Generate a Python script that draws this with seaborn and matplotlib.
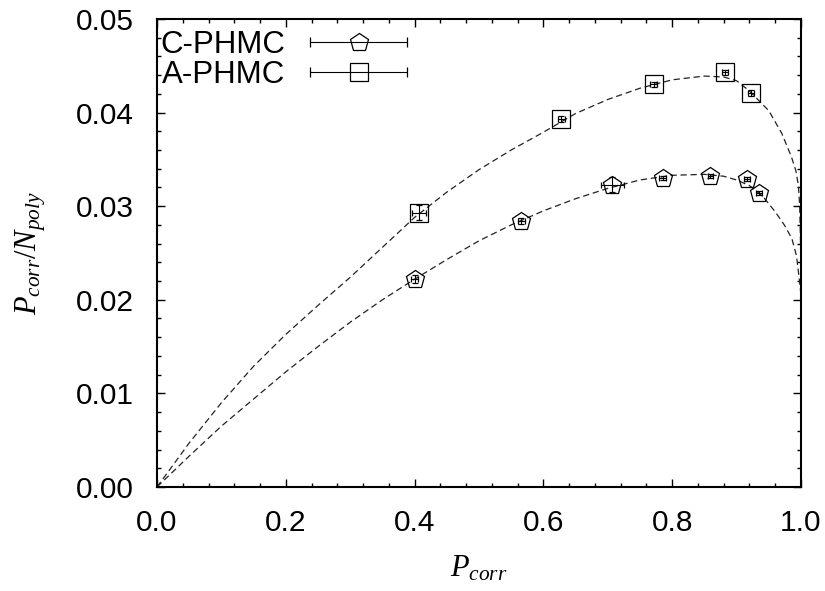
import numpy as np
import pandas as pd
import seaborn as sns
import matplotlib
matplotlib.use("Agg")
import matplotlib.pyplot as plt
from matplotlib.ticker import MultipleLocator, FormatStrFormatter
from matplotlib.container import ErrorbarContainer
from matplotlib.legend_handler import HandlerErrorbar

# measured points (C-PHMC, pentagons)
c_x = [0.400, 0.566, 0.707, 0.785, 0.859, 0.916, 0.935]
c_y = [0.0222, 0.0284, 0.0323, 0.0330, 0.0332, 0.0329, 0.0314]
c_xerr = [0.005, 0.005, 0.018, 0.005, 0.004, 0.005, 0.005]
c_yerr = [0.0004, 0.0003, 0.0008, 0.0002, 0.0002, 0.0002, 0.0002]

# measured points (A-PHMC, squares)
a_x = [0.407, 0.628, 0.771, 0.882, 0.922]
a_y = [0.0293, 0.0393, 0.0430, 0.0443, 0.0421]
a_xerr = [0.011, 0.005, 0.005, 0.005, 0.005]
a_yerr = [0.0008, 0.0003, 0.0003, 0.0003, 0.0003]

# dashed fit curves
fit_a_x = [0, 0.05, 0.1, 0.15, 0.2, 0.25, 0.3, 0.35, 0.4, 0.45, 0.5, 0.55, 0.6,
           0.65, 0.7, 0.75, 0.8, 0.85, 0.88, 0.9, 0.92, 0.95, 0.97, 0.985,
           0.992, 0.996, 0.998, 1.0]
fit_a_y = [0, 0.0047, 0.0090, 0.0129, 0.0163, 0.0194, 0.0224, 0.0256, 0.0288,
           0.0315, 0.0339, 0.0360, 0.0379, 0.0399, 0.0414, 0.0426, 0.0435,
           0.0439, 0.0438, 0.0434, 0.0423, 0.0402, 0.0378, 0.0353, 0.0338,
           0.0322, 0.0300, 0.0240]
fit_c_x = [0, 0.05, 0.1, 0.15, 0.2, 0.25, 0.3, 0.35, 0.4, 0.45, 0.5, 0.55, 0.6,
           0.65, 0.7, 0.75, 0.8, 0.85, 0.88, 0.9, 0.92, 0.94, 0.96, 0.975,
           0.986, 0.993, 0.997, 1.0]
fit_c_y = [0, 0.0033, 0.0065, 0.0094, 0.0123, 0.0150, 0.0176, 0.0200, 0.0222,
           0.0243, 0.0263, 0.0280, 0.0295, 0.0308, 0.0319, 0.0328, 0.0333,
           0.0334, 0.0332, 0.0328, 0.0322, 0.0311, 0.0294, 0.0279, 0.0265,
           0.0247, 0.0224, 0.0205]

sns.set_theme(style="ticks")
plt.rcParams["font.family"] = ["Liberation Sans", "DejaVu Sans"]
plt.rcParams["mathtext.fontset"] = "custom"
plt.rcParams["mathtext.rm"] = "Liberation Serif"
plt.rcParams["mathtext.it"] = "Liberation Serif:italic"
plt.rcParams["text.color"] = "black"
plt.rcParams["axes.labelcolor"] = "black"

fig = plt.figure(figsize=(8.25, 5.91), dpi=100)
ax = fig.add_axes([0.1903, 0.176, 0.7806, 0.7919])

fits = pd.concat([
    pd.DataFrame({"x": fit_a_x, "y": fit_a_y, "s": "A"}),
    pd.DataFrame({"x": fit_c_x, "y": fit_c_y, "s": "C"}),
])
sns.lineplot(data=fits, x="x", y="y", units="s", estimator=None, color="#222222",
             lw=0.9, linestyle=(0, (5, 3)), ax=ax, sort=False)

mk = dict(ms=13.5, mfc="none", mec="black", mew=0.9, ecolor="black",
          elinewidth=0.8, capthick=0.8)
ax.errorbar(c_x, c_y, xerr=c_xerr, yerr=c_yerr, fmt="p", capsize=2.5,
            zorder=3, **mk)
ax.errorbar(a_x, a_y, xerr=a_xerr, yerr=a_yerr, fmt="s", capsize=2.5,
            zorder=3, **mk)

# legend proxies: horizontal bar with caps and the open marker
h_c = ax.errorbar([np.nan], [np.nan], xerr=[0.1], fmt="p", capsize=3.5,
                  label="C-PHMC", **mk)
h_a = ax.errorbar([np.nan], [np.nan], xerr=[0.1], fmt="s", capsize=3.5,
                  label="A-PHMC", **mk)
leg = ax.legend(handles=[h_c, h_a], loc="upper left",
                bbox_to_anchor=(-0.012, 1.0), frameon=False, markerfirst=False,
                fontsize=22.5, handlelength=3.1, handletextpad=0.8,
                labelspacing=0.0, borderaxespad=0.0, borderpad=0.35,
                labelcolor="black",
                handler_map={ErrorbarContainer: HandlerErrorbar(xerr_size=1.55)})

ax.set_xlim(0, 1)
ax.set_ylim(0, 0.05)
ax.xaxis.set_major_locator(MultipleLocator(0.2))
ax.xaxis.set_minor_locator(MultipleLocator(0.04))
ax.yaxis.set_major_locator(MultipleLocator(0.01))
ax.yaxis.set_minor_locator(MultipleLocator(0.002))
ax.xaxis.set_major_formatter(FormatStrFormatter("%.1f"))
ax.yaxis.set_major_formatter(FormatStrFormatter("%.2f"))
ax.tick_params(which="both", direction="in", top=True, right=True,
               colors="black", labelsize=21.5, width=1.0)
ax.tick_params(which="major", length=6)
ax.tick_params(which="minor", length=3)
ax.tick_params(axis="x", which="major", pad=16)
ax.tick_params(axis="y", which="major", pad=16.5)
for sp in ax.spines.values():
    sp.set_linewidth(1.5)
    sp.set_color("black")
    sp.set_visible(True)

ax.set_xlabel(r"$P_{corr}$", fontsize=22, labelpad=12, color="black")
ax.set_ylabel(r"$P_{corr}/N_{poly}$", fontsize=22, labelpad=20, color="black")

fig.savefig("out.png", dpi=100)
